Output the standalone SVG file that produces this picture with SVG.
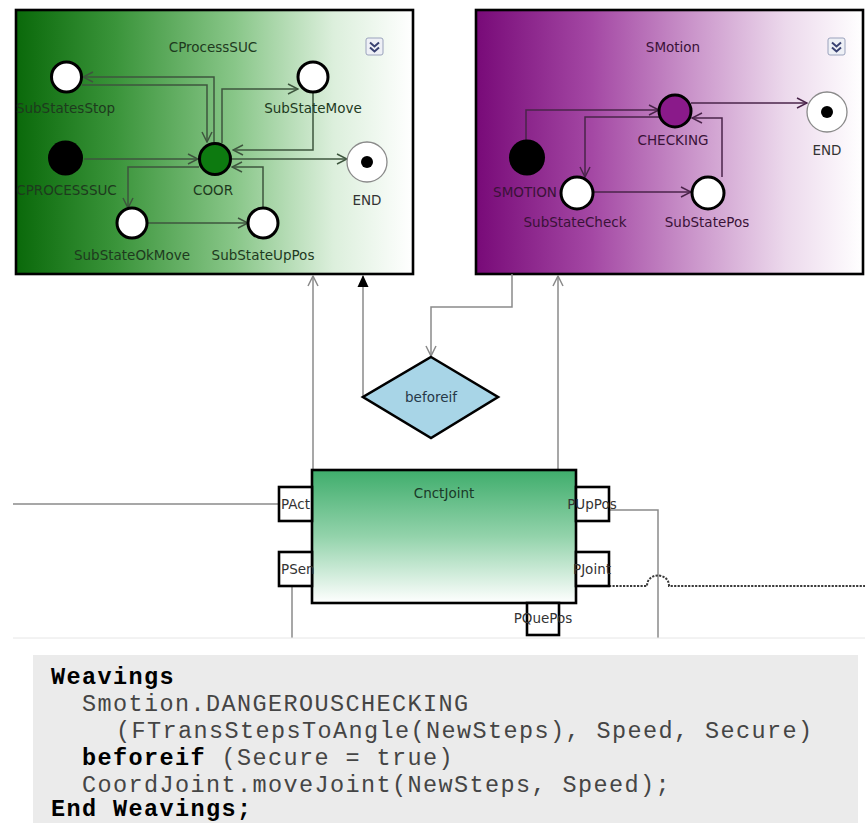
<svg xmlns="http://www.w3.org/2000/svg" width="865" height="823" viewBox="0 0 865 823">
  <defs>
    <linearGradient id="gGreen" x1="0" y1="0" x2="1" y2="0">
      <stop offset="0" stop-color="#0a690a"/>
      <stop offset="0.25" stop-color="#3a943a"/>
      <stop offset="0.55" stop-color="#88c688"/>
      <stop offset="0.8" stop-color="#dcefdc"/>
      <stop offset="1" stop-color="#ffffff"/>
    </linearGradient>
    <linearGradient id="gPurple" x1="0" y1="0" x2="1" y2="0">
      <stop offset="0" stop-color="#780a78"/>
      <stop offset="0.3" stop-color="#a448a4"/>
      <stop offset="0.55" stop-color="#c992c9"/>
      <stop offset="0.8" stop-color="#ecd9ec"/>
      <stop offset="1" stop-color="#ffffff"/>
    </linearGradient>
    <linearGradient id="gJoint" x1="0" y1="0" x2="0" y2="1">
      <stop offset="0" stop-color="#3fad6c"/>
      <stop offset="0.5" stop-color="#93d3ab"/>
      <stop offset="1" stop-color="#ffffff"/>
    </linearGradient>
    <clipPath id="clipL"><rect x="16" y="10" width="397" height="264"/></clipPath>
    <clipPath id="clipR"><rect x="476" y="10" width="387" height="264"/></clipPath>
    <marker id="aG" viewBox="0 0 12 12" refX="11" refY="6" markerWidth="12" markerHeight="12" markerUnits="userSpaceOnUse" orient="auto">
      <path d="M1,1 L11,6 L1,11" fill="none" stroke="#3e563e" stroke-width="1.5"/>
    </marker>
    <marker id="aP" viewBox="0 0 12 12" refX="11" refY="6" markerWidth="12" markerHeight="12" markerUnits="userSpaceOnUse" orient="auto">
      <path d="M1,1 L11,6 L1,11" fill="none" stroke="#4a244a" stroke-width="1.5"/>
    </marker>
    <marker id="aN" viewBox="0 0 12 12" refX="11" refY="6" markerWidth="12" markerHeight="12" markerUnits="userSpaceOnUse" orient="auto">
      <path d="M1,1 L11,6 L1,11" fill="none" stroke="#8a8a8a" stroke-width="1.5"/>
    </marker>
    <marker id="aF" viewBox="0 0 12 12" refX="11" refY="6" markerWidth="12" markerHeight="12" markerUnits="userSpaceOnUse" orient="auto">
      <path d="M0,0.5 L12,6 L0,11.5 Z" fill="#000"/>
    </marker>
  </defs>
  <style>
    .lbl { font-family: "DejaVu Sans", "Liberation Sans", sans-serif; font-size: 13.5px; text-anchor: middle; }
    .gl { fill: #1e3a1e; }
    .pl { fill: #3a1238; }
    .dl { fill: #333; }
    .box { stroke: #000; stroke-width: 2.6; }
    .st { fill: #fff; stroke: #000; stroke-width: 3; }
    .init { fill: #000; }
    .fin { fill: #fff; stroke: #8a8a8a; stroke-width: 1.3; }
    .cg { fill: none; stroke: #3e563e; stroke-width: 1.5; marker-end: url(#aG); }
    .cp { fill: none; stroke: #4a244a; stroke-width: 1.5; marker-end: url(#aP); }
    .cn { fill: none; stroke: #8a8a8a; stroke-width: 1.5; }
    .port { fill: #fff; stroke: #000; stroke-width: 2.6; }
    .icon { fill: #eef0f6; stroke: #9aa2bc; stroke-width: 1; }
    .chev { fill: none; stroke: #3a4272; stroke-width: 2; }
    .code { font-family: "Liberation Mono", "Courier New", monospace; font-size: 23.5px; letter-spacing: 1.4px; fill: #454545; }
    .kw { font-weight: bold; fill: #000; }
  </style>

  <rect width="865" height="823" fill="#fff"/>

  <!-- CProcessSUC region -->
  <g id="CProcessSUC">
    <rect class="box" x="16" y="10" width="397" height="264" fill="url(#gGreen)"/>
    <text class="lbl gl" x="213" y="52">CProcessSUC</text>
    <rect class="icon" x="366" y="38" width="17" height="17" rx="2"/>
    <path class="chev" d="M370,42.5 L374.5,46.5 L379,42.5 M370,47.5 L374.5,51.5 L379,47.5"/>
  </g>

  <!-- SMotion region -->
  <g id="SMotion">
    <rect class="box" x="476" y="10" width="387" height="264" fill="url(#gPurple)"/>
    <text class="lbl pl" x="673" y="52">SMotion</text>
    <rect class="icon" x="828" y="38" width="17" height="17" rx="2"/>
    <path class="chev" d="M832,42.5 L836.5,46.5 L841,42.5 M832,47.5 L836.5,51.5 L841,47.5"/>
  </g>

  <!-- transitions and links -->
  <g id="connectors">
    <g clip-path="url(#clipL)">
      <path class="cg" d="M214,143 V77 H83"/>
      <path class="cg" d="M82,85 H207 V142"/>
      <path class="cg" d="M222,143 V89 H298"/>
      <path class="cg" d="M313,93 V150 H233"/>
      <path class="cg" d="M84,159 H198"/>
      <path class="cg" d="M232,159 H347"/>
      <path class="cg" d="M199,167 H128 V208"/>
      <path class="cg" d="M148,223 H248"/>
      <path class="cg" d="M263,208 V167 H232"/>
    </g>
    <g clip-path="url(#clipR)">
      <path class="cp" d="M526,141 V110 H659"/>
      <path class="cp" d="M659,117 H585 V177"/>
      <path class="cp" d="M594,192 H691"/>
      <path class="cp" d="M722,177 V118 H692"/>
      <path class="cp" d="M691,103 H807"/>
    </g>
    <path class="cn" d="M313,470 V276" marker-end="url(#aN)"/>
    <path class="cn" d="M363,397 V276" marker-end="url(#aF)" stroke="#777"/>
    <path class="cn" d="M512,274 V307 H431 V356" marker-end="url(#aN)"/>
    <path class="cn" d="M558,470 V276" marker-end="url(#aN)"/>
    <path class="cn" d="M13,504 H279"/>
    <path class="cn" d="M292,586 V638"/>
    <path class="cn" d="M609,510 H658 V638"/>
    <path d="M609,586 H647 C647,572 669,572 669,586 H865" fill="none" stroke="#3a3a3a" stroke-width="2" stroke-dasharray="2.2,1.3"/>
    <path d="M13,638 H865" stroke="#e6e6e6" stroke-width="1"/>
  </g>

  <!-- states of CProcessSUC -->
  <g clip-path="url(#clipL)">
    <g id="SubStatesStop">
      <circle class="st" cx="66.5" cy="77" r="15"/>
      <text class="lbl gl" x="65.5" y="113">SubStatesStop</text>
    </g>
    <g id="SubStateMove">
      <circle class="st" cx="313" cy="77" r="15"/>
      <text class="lbl gl" x="313" y="113">SubStateMove</text>
    </g>
    <g id="CPROCESSSUC">
      <circle class="init" cx="65.5" cy="158" r="17.5"/>
      <text class="lbl gl" x="66.5" y="195">CPROCESSSUC</text>
    </g>
    <g id="COOR">
      <circle cx="215" cy="159" r="15.5" fill="#0d7a10" stroke="#000" stroke-width="3"/>
      <text class="lbl gl" x="213" y="195">COOR</text>
    </g>
    <g id="END_CProcessSUC">
      <circle class="fin" cx="367" cy="162" r="20"/>
      <circle cx="367" cy="162" r="6" fill="#000"/>
      <text class="lbl dl" x="367" y="205">END</text>
    </g>
    <g id="SubStateOkMove">
      <circle class="st" cx="132" cy="223" r="15"/>
      <text class="lbl gl" x="132" y="260">SubStateOkMove</text>
    </g>
    <g id="SubStateUpPos">
      <circle class="st" cx="263" cy="223" r="15"/>
      <text class="lbl gl" x="263" y="260">SubStateUpPos</text>
    </g>
  </g>

  <!-- states of SMotion -->
  <g clip-path="url(#clipR)">
    <g id="CHECKING">
      <circle cx="675" cy="111" r="16" fill="#8a1a8a" stroke="#000" stroke-width="3"/>
      <text class="lbl pl" x="673" y="145">CHECKING</text>
    </g>
    <g id="END_SMotion">
      <circle class="fin" cx="827" cy="112" r="20"/>
      <circle cx="827" cy="112" r="6" fill="#000"/>
      <text class="lbl dl" x="827" y="155">END</text>
    </g>
    <g id="SMOTION">
      <circle class="init" cx="527" cy="157.5" r="18"/>
      <text class="lbl pl" x="525" y="197">SMOTION</text>
    </g>
    <g id="SubStateCheck">
      <circle class="st" cx="577" cy="193" r="16"/>
      <text class="lbl pl" x="575" y="227">SubStateCheck</text>
    </g>
    <g id="SubStatePos">
      <circle class="st" cx="708" cy="193" r="16"/>
      <text class="lbl pl" x="707" y="227">SubStatePos</text>
    </g>
  </g>

  <!-- decision -->
  <g id="beforeif">
    <polygon points="431,357 498,397 431,438 363,397" fill="#a8d5e7" stroke="#000" stroke-width="2.6"/>
    <text class="lbl" x="431" y="402" fill="#263848">beforeif</text>
  </g>

  <!-- component with ports -->
  <g id="CnctJoint">
    <rect class="box" x="312" y="470" width="264" height="133" fill="url(#gJoint)"/>
    <text class="lbl" x="444" y="498" fill="#1a3a28">CnctJoint</text>
  </g>
  <g id="PAct">
    <rect class="port" x="279" y="487" width="33" height="34"/>
    <text class="lbl dl" x="281" y="509" style="text-anchor:start">PAct</text>
  </g>
  <g id="PSen">
    <rect class="port" x="279" y="552" width="33" height="34"/>
    <text class="lbl dl" x="281" y="574" style="text-anchor:start">PSen</text>
  </g>
  <g id="PUpPos">
    <rect class="port" x="576" y="487" width="33" height="34"/>
    <text class="lbl dl" x="592" y="509">PUpPos</text>
  </g>
  <g id="PJoint">
    <rect class="port" x="576" y="552" width="33" height="34"/>
    <text class="lbl dl" x="592" y="574">PJoint</text>
  </g>
  <g id="PQuePos">
    <rect class="port" x="527" y="603" width="32" height="32"/>
    <text class="lbl dl" x="543" y="623">PQuePos</text>
  </g>

  <!-- weaving listing -->
  <g id="weavings">
    <rect x="33" y="655" width="825" height="168" fill="#ebebeb"/>
    <text class="code kw" x="51" y="684">Weavings</text>
    <text class="code" x="82" y="711">Smotion.DANGEROUSCHECKING</text>
    <text class="code" x="116" y="738">(FTransStepsToAngle(NewSteps), Speed, Secure)</text>
    <text class="code" x="82" y="765"><tspan class="kw">beforeif</tspan> (Secure = true)</text>
    <text class="code" x="82" y="792">CoordJoint.moveJoint(NewSteps, Speed);</text>
    <text class="code kw" x="51" y="816">End Weavings;</text>
  </g>
</svg>
